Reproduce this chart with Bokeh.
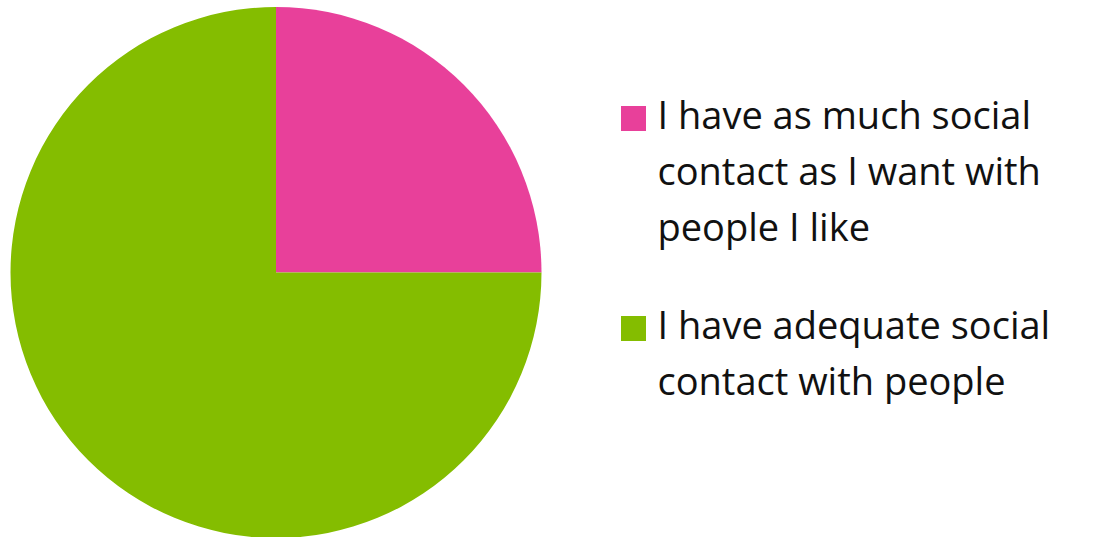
from bokeh.plotting import figure
from bokeh.models import Range1d, ColumnDataSource
from bokeh.core.properties import value
from bokeh.embed import file_html
from bokeh.resources import INLINE
import math

categories = [
    "I have as much social contact as I want with people I like",
    "I have adequate social contact with people",
]
label_lines = [
    ["I have as much social", "contact as I want with", "people I like"],
    ["I have adequate social", "contact with people"],
]
shares = [25, 75]
colors = ["#E8409A", "#84BD00"]

W, H = 1094, 537
p = figure(width=W, height=H, output_backend="svg", toolbar_location=None,
           x_range=Range1d(0, W), y_range=Range1d(0, H), min_border=0)
p.axis.visible = False
p.grid.visible = False
p.outline_line_color = None
p.background_fill_color = "white"
p.border_fill_color = "white"

# pie: start at top, go clockwise
total = sum(shares)
starts, ends = [], []
a = math.pi / 2
for s in shares:
    sweep = 2 * math.pi * s / total
    ends.append(a)
    starts.append(a - sweep)
    a -= sweep
src = ColumnDataSource(dict(start=starts, end=ends, color=colors))
cx, cy, r = 275.5, H - 272, 265.5
p.wedge(x=cx, y=cy, radius=r, start_angle="start", end_angle="end",
        fill_color="color", line_color=None, source=src)

# legend
font = value("Open Sans")
first_baseline = 129
line_gap = 56
item_gap = 42
text_shift = 16
ybase = first_baseline
for lines, col in zip(label_lines, colors):
    p.rect(x=633, y=H - (ybase - 11), width=25, height=25,
           fill_color=col, line_color=None)
    for k, ln in enumerate(lines):
        p.text(x=[657], y=[H - (ybase + k * line_gap - text_shift)], text=[ln],
               text_font=font, text_font_size="38px", text_color="#111111",
               text_baseline="alphabetic", text_align="left")
    ybase += len(lines) * line_gap + item_gap

open("out.html", "w").write(file_html(p, INLINE))
